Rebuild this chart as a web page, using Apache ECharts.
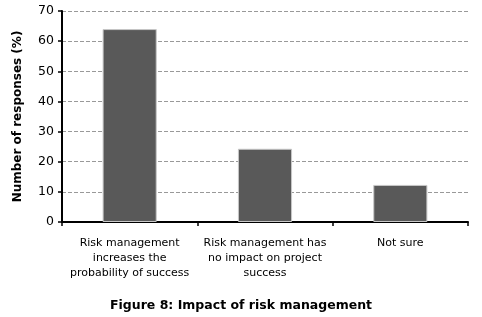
<!DOCTYPE html>
<html>
<head>
<meta charset="utf-8">
<script src="https://cdn.jsdelivr.net/npm/echarts@6/dist/echarts.min.js"></script>
<style>
  html, body { margin: 0; padding: 0; background: #fff; }
  #chart { width: 482px; height: 317px; }
</style>
</head>
<body>
<div id="chart"></div>
<script>
const categories = [
  'Risk management\nincreases the\nprobability of success',
  'Risk management has\nno impact on project\nsuccess',
  'Not sure'
]
const responses = [64, 24.3, 12.3]
const yTicks = { min: 0, max: 70, interval: 10 }

const chart = echarts.init(document.getElementById('chart'))
chart.setOption({
  animation: false,
  textStyle: { fontFamily: 'DejaVu Sans' },
  title: {
    text: 'Figure 8: Impact of risk management',
    left: 'center',
    top: 294,
    textStyle: { fontSize: 12.5, fontWeight: 'bold', color: '#000', fontFamily: 'DejaVu Sans' }
  },
  grid: { left: 62, right: 14, top: 11, bottom: 95 },
  xAxis: {
    type: 'category',
    data: categories,
    axisLine: { lineStyle: { color: '#000', width: 2 } },
    axisTick: { show: true, length: 4, lineStyle: { color: '#000', width: 1.5 } },
    axisLabel: { color: '#000', fontSize: 11, lineHeight: 15, margin: 14, interval: 0 }
  },
  yAxis: {
    type: 'value',
    min: yTicks.min,
    max: yTicks.max,
    interval: yTicks.interval,
    name: 'Number of responses (%)',
    nameLocation: 'middle',
    nameGap: 38,
    nameTextStyle: { fontSize: 12, fontWeight: 'bold', color: '#000' },
    axisLine: { show: true, lineStyle: { color: '#000', width: 2 } },
    axisTick: { show: true, length: 4, lineStyle: { color: '#000', width: 1.5 } },
    axisLabel: { color: '#000', fontSize: 12.5, margin: 8 },
    splitLine: { lineStyle: { color: '#999', type: [4, 2], width: 1 } }
  },
  series: [{
    type: 'bar',
    data: responses,
    barWidth: '40%',
    itemStyle: { color: '#595959', borderColor: '#c8c8c8', borderWidth: 1 }
  }]
})
</script>
</body>
</html>
